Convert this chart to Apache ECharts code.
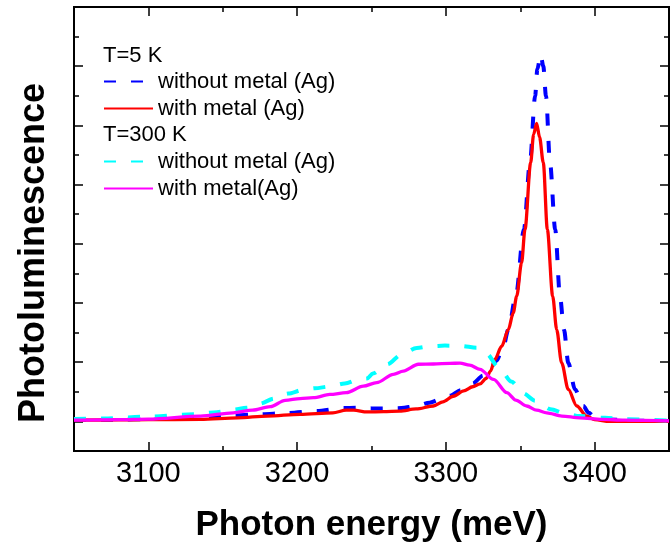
<!DOCTYPE html>
<html>
<head>
<meta charset="utf-8">
<script src="https://cdn.jsdelivr.net/npm/echarts@6/dist/echarts.min.js"></script>
<style>
html,body{margin:0;padding:0;background:#fff;}
#chart{width:671px;height:548px;}
</style>
</head>
<body>
<div id="chart"></div>
<script>
// ---- tick values ----
const xMajorTicks = [3100, 3200, 3300, 3400];
const xMinorTicks = [3150, 3250, 3350];
const yMajorTicks = [0, 2, 4, 6, 8, 10, 12];
const yMinorTicks = [1, 3, 5, 7, 9, 11, 13];

// ---- series names ----
const seriesNames = ['T5|without metal (Ag)', 'T5|with metal (Ag)', 'T300|without metal (Ag)', 'T300|with metal(Ag)'];
const groupHeaders = ['T=5 K', 'T=300 K'];

// ---- T=5 K without metal (blue dashed) ----
const blueE = [3050,3080,3100,3130,3155,3175,3193,3213,3231,3240,3250,3260,3270,3280,3289,3296,3303,3310,3318,3325,3330,3334,3338.5,3342,3347,3352.5,3356.5,3360,3361.5,3363.7,3365.5,3367.3,3370,3373.5,3376.7,3379.4,3382.3,3386.8,3392.4,3396,3400,3410,3430,3450];
const blueI = [0.05,0.06,0.08,0.13,0.20,0.24,0.28,0.35,0.45,0.46,0.44,0.44,0.45,0.52,0.63,0.74,0.87,1.05,1.28,1.55,1.80,2.05,2.50,3.10,4.23,6.49,8.74,10.99,11.90,12.40,12.00,10.99,8.74,6.49,4.23,3.10,1.98,1.08,0.52,0.29,0.15,0.06,0.02,0.01];

// ---- T=5 K with metal (red solid) ----
const redE = [3050,3080,3100,3135,3160,3180,3202,3224,3233,3238,3247,3258,3269,3280,3291.6,3298,3305,3312,3318,3323,3327,3330,3333,3337.5,3342,3345.3,3347.6,3350.9,3353.2,3357,3359,3361,3363,3365.5,3368.2,3371.8,3374.5,3377.8,3382.3,3388,3394.6,3400,3410,3430,3450];
const redI = [0.04,0.05,0.06,0.07,0.12,0.18,0.24,0.29,0.38,0.38,0.32,0.33,0.35,0.42,0.52,0.66,0.85,1.03,1.17,1.27,1.45,1.70,2.10,2.54,3.10,3.67,4.23,5.36,6.49,8.74,9.70,10.07,9.60,8.74,6.49,4.23,3.10,1.98,1.08,0.52,0.18,0.06,0.00,0.00,0.00];

// ---- T=300 K without metal (cyan dashed) ----
const cyanE = [3050,3070,3100,3131,3146,3157,3166,3175,3184.5,3194,3203.7,3212,3222,3232,3241.8,3247,3251,3260.6,3270,3280.4,3290,3299.4,3310,3320.7,3327,3335.9,3344,3352,3360,3370.4,3380,3389.7,3407,3420,3450];
const cyanI = [0.08,0.10,0.16,0.24,0.31,0.40,0.46,0.60,0.77,0.94,1.06,1.12,1.18,1.28,1.42,1.45,1.62,1.93,2.25,2.48,2.54,2.56,2.55,2.49,2.30,1.81,1.35,0.95,0.70,0.41,0.27,0.18,0.12,0.07,0.03];

// ---- T=300 K with metal (magenta solid) ----
const magE = [3050,3080,3100,3135,3157,3170,3182,3192,3202,3211,3222,3233,3244.5,3253.5,3264.7,3271.4,3281.5,3291.6,3302.8,3309.5,3316,3323,3332,3341,3347,3354.3,3361,3367.8,3378,3390,3405,3420,3450];
const magI = [0.04,0.06,0.08,0.18,0.29,0.38,0.50,0.71,0.77,0.80,0.91,0.97,1.19,1.31,1.59,1.70,1.93,1.94,1.96,1.97,1.90,1.76,1.42,0.97,0.72,0.52,0.38,0.29,0.18,0.12,0.07,0.04,0.02];

const zip = (a, b) => a.map((v, i) => [v, b[i]]);

const FONT = '"Liberation Sans", Arial, Helvetica, sans-serif';
const axisLine = {show: true, onZero: false, lineStyle: {color: '#000', width: 2}};
const tickStyle = {color: '#000', width: 1.5};

function xAx(pos, ticks, len, extra) {
  return Object.assign({
    type: 'value', position: pos, min: 3050, max: 3450,
    axisLine: axisLine,
    axisTick: {show: true, inside: true, length: len, customValues: ticks, lineStyle: tickStyle},
    axisLabel: {show: false},
    splitLine: {show: false}
  }, extra || {});
}
function yAx(pos, ticks, len) {
  return {
    type: 'value', position: pos, min: -1, max: 14,
    axisLine: axisLine,
    axisTick: {show: true, inside: true, length: len, customValues: ticks, lineStyle: tickStyle},
    axisLabel: {show: false},
    splitLine: {show: false}
  };
}

const xAxes = [
  xAx('bottom', xMajorTicks, 9, {
    axisLabel: {show: true, customValues: xMajorTicks, formatter: v => String(v), fontSize: 29, margin: 8, color: '#000', fontFamily: FONT},
    name: 'Photon energy (meV)', nameLocation: 'middle', nameGap: 57,
    nameTextStyle: {fontSize: 35, fontWeight: 'bold', color: '#000', fontFamily: FONT}
  }),
  xAx('bottom', xMinorTicks, 5),
  xAx('top', xMajorTicks, 9),
  xAx('top', xMinorTicks, 5)
];
const yAxes = [
  Object.assign(yAx('left', yMajorTicks, 9), {
    name: 'Photoluminescence', nameLocation: 'middle', nameGap: 22, nameRotate: 90,
    nameTextStyle: {fontSize: 36, fontWeight: 'bold', color: '#000', fontFamily: FONT, padding: [0, 48, 0, 0]}
  }),
  yAx('left', yMinorTicks, 5),
  yAx('right', yMajorTicks, 9),
  yAx('right', yMinorTicks, 5)
];

const colors = ['#0000ff', '#ff0000', '#00ffff', '#ff00ff'];
const dashes = [[12, 15], 'solid', [12, 15], 'solid'];
const widths = [4, 3.3, 4, 3.3];
const dataSets = [zip(blueE, blueI), zip(redE, redI), zip(cyanE, cyanI), zip(magE, magI)];

const series = dataSets.map((d, i) => ({
  name: seriesNames[i], type: 'line', data: d,
  xAxisIndex: 0, yAxisIndex: 0,
  symbol: 'none', smooth: 0.3, smoothMonotone: 'x',
  lineStyle: {color: colors[i], width: widths[i], type: dashes[i]},
  itemStyle: {color: colors[i]},
  z: 2 + i
}));

const legendBase = {
  orient: 'vertical', left: 103, padding: 0, itemGap: 5,
  itemWidth: 49, itemHeight: 14,
  itemStyle: {opacity: 0},
  formatter: n => n.split('|')[1],
  textStyle: {fontSize: 22, color: '#000', fontFamily: FONT, lineHeight: 22},
  selectedMode: false
};

const chart = echarts.init(document.getElementById('chart'), null, {renderer: 'canvas'});
chart.setOption({
  animation: false,
  backgroundColor: '#fff',
  grid: {left: 74, right: 2, top: 7, bottom: 97, containLabel: false},
  xAxis: xAxes,
  yAxis: yAxes,
  legend: [
    Object.assign({}, legendBase, {top: 70.5, data: [seriesNames[0], seriesNames[1]]}),
    Object.assign({}, legendBase, {top: 150.5, data: [seriesNames[2], seriesNames[3]]})
  ],
  graphic: [
    {type: 'text', left: 103, top: 45, style: {text: groupHeaders[0], fontSize: 22, fill: '#000', fontFamily: FONT}},
    {type: 'text', left: 103, top: 124, style: {text: groupHeaders[1], fontSize: 22, fill: '#000', fontFamily: FONT}}
  ],
  series: series
});
</script>
</body>
</html>
